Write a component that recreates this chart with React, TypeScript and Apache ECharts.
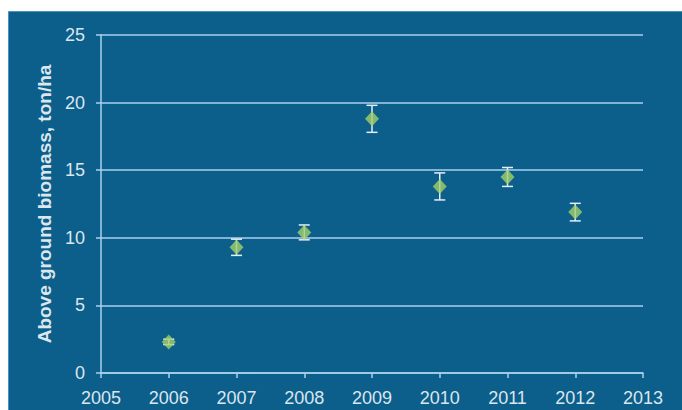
import React, { useEffect, useRef } from "react";
import * as echarts from "echarts";

const years = [2006, 2007, 2008, 2009, 2010, 2011, 2012];
const biomass = [2.3, 9.3, 10.4, 18.8, 13.8, 14.5, 11.9];
const errors = [0.2, 0.6, 0.55, 1.0, 1.0, 0.7, 0.65];
const yTicks = [0, 5, 10, 15, 20, 25];

export default function App() {
  const ref = useRef<HTMLDivElement>(null);
  useEffect(() => {
    if (!ref.current) return;
    const chart = echarts.init(ref.current, undefined, { renderer: "svg" });
    const labelColor = "#dbe6ee";
    const gridColor = "#a9d2ec";
    const font = "'Liberation Sans', Arial, sans-serif";
    chart.setOption({
      animation: false,
      backgroundColor: "#ffffff",
      graphic: [
        {
          type: "rect",
          z: -10,
          silent: true,
          shape: { x: 8.5, y: 11.5, width: 690, height: 420 },
          style: { fill: "#0c5e8b", stroke: "#4a94c4", lineWidth: 1 },
        },
      ],
      grid: { left: 101, right: 39, top: 35, bottom: 37, containLabel: false },
      xAxis: {
        type: "value",
        min: 2005,
        max: 2013,
        interval: 1,
        axisLine: { show: true, lineStyle: { color: gridColor, width: 1.5 } },
        axisTick: { show: true, length: 5, lineStyle: { color: gridColor, width: 1.5 } },
        splitLine: { show: false },
        axisLabel: {
          color: labelColor,
          fontSize: 18,
          fontFamily: font,
          margin: 16,
          formatter: (v: number) => String(v),
        },
      },
      yAxis: {
        type: "value",
        min: yTicks[0],
        max: yTicks[yTicks.length - 1],
        interval: 5,
        name: "Above ground biomass, ton/ha",
        nameLocation: "middle",
        nameGap: 38,
        nameTextStyle: {
          color: labelColor,
          fontSize: 19,
          fontWeight: "bold",
          fontFamily: font,
        },
        axisLine: { show: true, lineStyle: { color: gridColor, width: 1.5 } },
        axisTick: { show: true, length: 5, lineStyle: { color: gridColor, width: 1.5 } },
        splitLine: { show: true, lineStyle: { color: gridColor, width: 1.5 } },
        axisLabel: {
          color: labelColor,
          fontSize: 18,
          fontFamily: font,
          margin: 16,
        },
      },
      series: [
        {
          type: "custom",
          z: 2,
          data: years.map((y, i) => [y, biomass[i] - errors[i], biomass[i] + errors[i]]),
          renderItem: (params: any, api: any) => {
            const x = api.value(0);
            const lo = api.coord([x, api.value(1)]);
            const hi = api.coord([x, api.value(2)]);
            const cap = 5.5;
            const style = { stroke: "#e6eef3", lineWidth: 1.5 };
            return {
              type: "group",
              children: [
                { type: "line", shape: { x1: lo[0], y1: lo[1], x2: hi[0], y2: hi[1] }, style },
                { type: "line", shape: { x1: hi[0] - cap, y1: hi[1], x2: hi[0] + cap, y2: hi[1] }, style },
                { type: "line", shape: { x1: lo[0] - cap, y1: lo[1], x2: lo[0] + cap, y2: lo[1] }, style },
              ],
            };
          },
        },
        {
          type: "scatter",
          z: 3,
          symbol: "diamond",
          symbolSize: [14, 15],
          itemStyle: { color: "#a2cf6c" },
          data: years.map((y, i) => [y, biomass[i]]),
        },
      ],
    });
    return () => chart.dispose();
  }, []);
  return (
    <div
      ref={ref}
      style={{ position: "absolute", left: 0, top: 0, width: 682, height: 410 }}
    />
  );
}
